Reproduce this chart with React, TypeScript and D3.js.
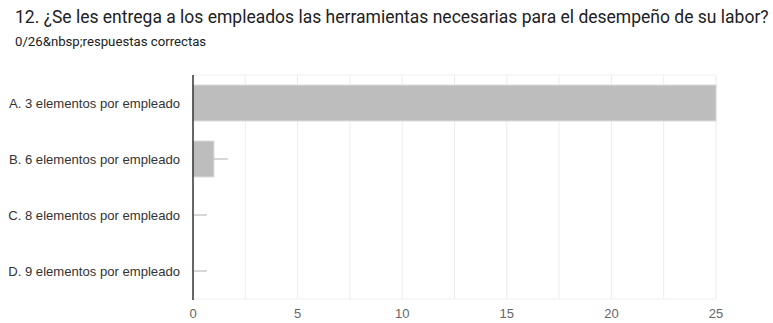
import React from "react";
import * as d3 from "d3";

const title = "12. ¿Se les entrega a los empleados las herramientas necesarias para el desempeño de su labor?";
const subtitle = "0/26&nbsp;respuestas correctas";
const categories = [
  "A. 3 elementos por empleado",
  "B. 6 elementos por empleado",
  "C. 8 elementos por empleado",
  "D. 9 elementos por empleado",
];
const values = [25, 1, 0, 0];
const ticks = [0, 5, 10, 15, 20, 25];
const gridTicks = [2.5, 5, 7.5, 10, 12.5, 15, 17.5, 20, 22.5, 25];

export default function App() {
  const W = 773, H = 323;
  const left = 193, right = 716, top = 75, bottom = 299;
  const x = d3.scaleLinear().domain([0, 25]).range([left, right]);
  const y = d3.scaleBand<string>().domain(categories).range([top, bottom]).paddingInner(0.36).paddingOuter(0.18);
  const whisker = 14;
  return (
    <svg width={W} height={H} style={{ position: "absolute", left: 0, top: 0, background: "#fff" }}>
      <text x={15} y={23} fontFamily="Roboto, 'Open Sans', sans-serif" fontSize={17.5} fill="#202124">{title}</text>
      <text x={15} y={46} fontFamily="Roboto, sans-serif" fontSize={13.2} fill="#202124">{subtitle}</text>
      <line x1={left} x2={right} y1={top} y2={top} stroke="#efefef" />
      <line x1={left} x2={right} y1={bottom} y2={bottom} stroke="#efefef" />
      {gridTicks.map((t) => (
        <line key={t} x1={x(t)} x2={x(t)} y1={top} y2={bottom} stroke="#ececec" strokeWidth={1} />
      ))}
      {categories.map((c, i) => {
        const yy = y(c)!;
        const bw = y.bandwidth();
        const v = values[i];
        return (
          <g key={c}>
            {v > 0 && (
              <rect x={x(0)} y={yy} width={x(v) - x(0)} height={bw} fill="#bdbdbd" stroke="#d6d6d6" strokeWidth={1} />
            )}
            {v < 25 && (
              <line x1={x(v)} x2={x(v) + whisker} y1={yy + bw / 2} y2={yy + bw / 2} stroke="#bdbdbd" strokeWidth={1.2} />
            )}
            <text x={180} y={yy + bw / 2} dy="0.35em" textAnchor="end" fontFamily="'Liberation Sans', Arial, sans-serif" fontSize={13.1} fill="#333">{c}</text>
          </g>
        );
      })}
      <line x1={left} x2={left} y1={top} y2={bottom + 1} stroke="#333" strokeWidth={1.5} />
      {ticks.map((t) => (
        <text key={t} x={x(t)} y={318} textAnchor="middle" fontFamily="'Liberation Sans', Arial, sans-serif" fontSize={13} fill="#666">{t}</text>
      ))}
    </svg>
  );
}
